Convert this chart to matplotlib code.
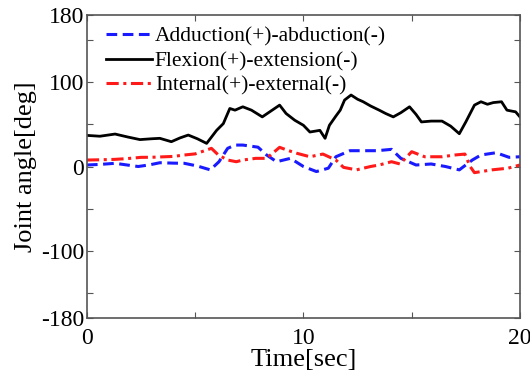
import numpy as np
import matplotlib.pyplot as plt

plt.rcParams['font.family'] = ['Liberation Serif', 'DejaVu Serif']

# Flexion(+)-extension(-)
t_flex = [0, 0.6, 1.3, 1.9, 2.45, 3.0, 3.37, 3.9, 4.3, 4.68, 5.1, 5.53, 5.99, 6.3, 6.6, 6.84,
          7.2, 7.6, 8.1, 8.5, 8.9, 9.2, 9.6, 10.0, 10.3, 10.76, 11.0, 11.2, 11.5, 11.7, 11.9,
          12.2, 12.5, 12.76, 13.1, 13.5, 13.8, 14.15, 14.5, 14.9, 15.2, 15.45, 15.9, 16.4,
          16.8, 17.2, 17.5, 17.9, 18.2, 18.5, 18.77, 19.15, 19.4, 19.8, 20]
v_flex = [37, 36, 38.6, 35, 32, 33, 33.5, 29.5, 34, 37.4, 33, 27.5, 43, 51, 69, 67,
          71, 67, 59, 66, 73, 63, 55, 49, 41, 43, 33.5, 49, 60, 67, 79,
          85, 80, 77, 72, 67, 63, 59, 64, 71, 62, 53, 54, 54,
          48, 39, 53, 73, 77, 74, 76, 77, 67, 65, 59]

# Adduction(+)-abduction(-)
t_add = [0, 0.6, 1.3, 1.8, 2.37, 2.9, 3.37, 4.0, 4.5, 5.1, 5.7, 6.1, 6.5, 6.84, 7.2, 7.9,
         8.3, 8.76, 9.4, 10.0, 10.6, 11.15, 11.5, 12.15, 12.8, 13.4, 14.07, 14.5, 15.2,
         15.9, 16.56, 17.2, 17.8, 18.2, 18.9, 19.5, 20]
v_add = [1.8, 2.5, 3.8, 2, 0, 2, 4.5, 4, 3.8, 0.6, -4, 5.7, 21.6, 25.5, 25.5, 23,
         13.7, 5.7, 9.7, 0, -6, -2, 11.6, 18.8, 18.8, 18.8, 20.4, 9.7, 1.8,
         3, 0, -4, 7.7, 13.7, 16.4, 10.9, 11.6]

# Internal(+)-external(-)
t_int = [0, 0.6, 1.3, 1.9, 2.5, 3.0, 3.6, 4.0, 4.5, 5.0, 5.3, 5.75, 6.07, 6.5, 6.9, 7.2,
         7.8, 8.3, 8.9, 9.3, 9.7, 10.3, 10.9, 11.5, 11.85, 12.45, 13.1, 13.5, 14.07, 14.46,
         15.0, 15.6, 16.4, 17.0, 17.46, 17.7, 17.9, 18.7, 19.45, 20]
v_int = [7.7, 8, 8.5, 9.5, 10.9, 11, 11.6, 12, 13.7, 15, 17.6, 21.6, 13.7, 7.7, 5.7, 7.7,
         9.7, 9.7, 22.8, 19, 15.7, 11.6, 14.8, 7.7, -1, -4, 0, 1.8, 5.7, 3,
         17.6, 11.6, 11.6, 13.7, 14.8, 0, -7.3, -4, -2, 1.8]

labels = ["Adduction(+)-abduction(-)", "Flexion(+)-extension(-)", "Internal(+)-external(-)"]

fig = plt.figure(figsize=(5.3, 3.78), dpi=100)
ax = fig.add_axes([0.164, 0.159, 0.817, 0.801])

ax.plot(t_add, v_add, color="#1a1aff", lw=2.2, dashes=(3.5, 1.8), label=labels[0])
ax.plot(t_flex, v_flex, color="black", lw=2.0, label=labels[1])
ax.plot(t_int, v_int, color="#ff1a1a", lw=2.2, dashes=(4, 1.5, 1, 1.5), label=labels[2])

ax.set_xlim(0, 20)
ax.set_ylim(-180, 180)
ax.set_xticks([0, 5, 10, 15, 20])
ax.set_xticklabels(["0", "", "10", "", "20"])
ax.set_yticks([-180, -150, -100, -50, 0, 50, 100, 150, 180])
ax.set_yticklabels(["-180", "", "-100", "", "0", "", "100", "", "180"])
ax.tick_params(direction="in", top=True, right=True, labelsize=17, length=4,
               color="#555555")
ax.tick_params(axis="x", pad=7)
ax.tick_params(axis="y", pad=2)
for s in ax.spines.values():
    s.set_color("#555555")
    s.set_linewidth(1.2)

ax.set_xlabel("Time[sec]", fontsize=19, labelpad=0)
ax.set_ylabel("Joint angle[deg]", fontsize=19, labelpad=3)

ax.legend(loc="upper left", frameon=False, fontsize=15.5, handlelength=2.1,
          handletextpad=0.15, labelspacing=0.2, borderaxespad=0.0,
          bbox_to_anchor=(0.025, 0.99))

fig.savefig("out.png", dpi=100)
